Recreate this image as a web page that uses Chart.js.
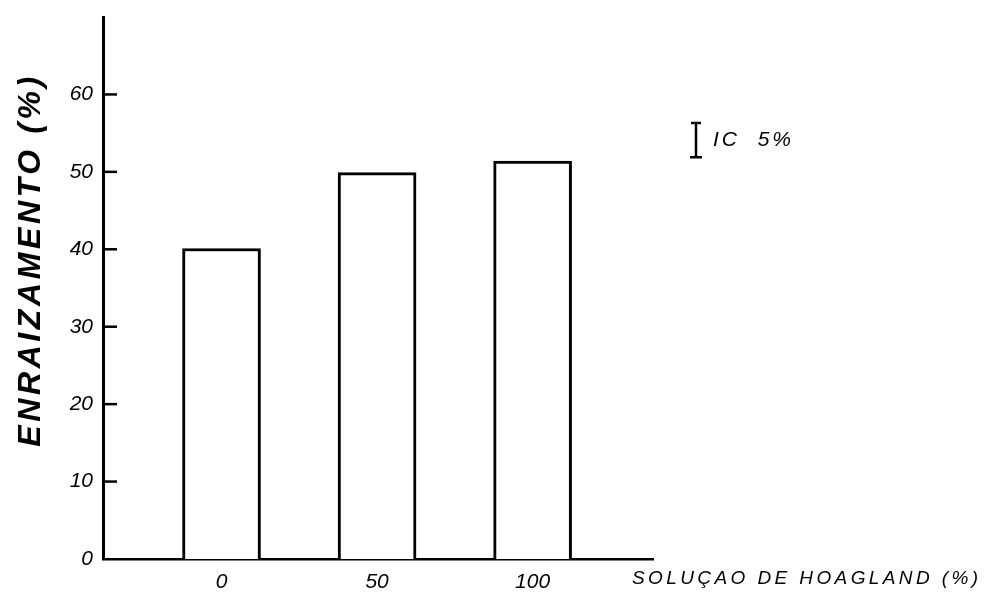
<!DOCTYPE html>
<html>
<head>
<meta charset="utf-8">
<title>Enraizamento x Solução de Hoagland</title>
<script src="https://cdn.jsdelivr.net/npm/chart.js@4.4.1/dist/chart.umd.min.js"></script>
<style>
  html, body { margin: 0; padding: 0; background: #fff; }
  #wrap { width: 994px; height: 594px; }
</style>
</head>
<body>
<div id="wrap"><canvas id="chart" width="994" height="594"></canvas></div>
<script>
// dados
const categorias = [0, 50, 100];            // solução de Hoagland (%)
const enraizamento = [40.1, 49.9, 51.4];     // enraizamento (%)
const yTicks = [0, 10, 20, 30, 40, 50, 60];
const yMax = 70;
const icTopo = 56.3;                         // barra "IC 5%" (unidades de y)
const icLargura = 4.4;

const tituloY = "ENRAIZAMENTO (%)";
const tituloX = "SOLUÇAO DE HOAGLAND (%)";
const legendaIC = "IC  5%";

const fonte = "'Liberation Sans', Arial, sans-serif";

// tracinhos dos ticks por dentro, títulos e legenda IC
const extras = {
  id: "extras",
  afterDraw(chart) {
    const { ctx, chartArea } = chart;
    const y = chart.scales.y;
    const x = chart.scales.x;
    ctx.save();
    ctx.strokeStyle = "#000";
    ctx.fillStyle = "#000";

    // tracinhos do eixo y
    ctx.lineWidth = 2.5;
    yTicks.forEach((v) => {
      if (v === 0) return;
      const py = y.getPixelForValue(v);
      ctx.beginPath();
      ctx.moveTo(chartArea.left, py);
      ctx.lineTo(chartArea.left + 14, py);
      ctx.stroke();
    });

    // título do eixo y
    ctx.save();
    ctx.translate(31, 260);
    ctx.rotate(-Math.PI / 2);
    ctx.font = "italic bold 32px " + fonte;
    ctx.letterSpacing = "3.6px";
    ctx.textAlign = "center";
    ctx.textBaseline = "middle";
    ctx.fillText(tituloY, 0, 0);
    ctx.restore();

    // título do eixo x
    ctx.font = "italic 19px " + fonte;
    ctx.letterSpacing = "3.4px";
    ctx.textAlign = "left";
    ctx.textBaseline = "middle";
    ctx.fillText(tituloX, chartArea.right - 21, x.bottom - 15);

    // legenda IC 5%
    const lx = chartArea.right + 43;
    const top = y.getPixelForValue(icTopo);
    const bot = y.getPixelForValue(icTopo - icLargura);
    ctx.lineWidth = 2.5;
    ctx.beginPath();
    ctx.moveTo(lx, top); ctx.lineTo(lx, bot);
    ctx.moveTo(lx - 5, top); ctx.lineTo(lx + 5, top);
    ctx.moveTo(lx - 6, bot); ctx.lineTo(lx + 6, bot);
    ctx.stroke();
    ctx.font = "italic 21px " + fonte;
    ctx.letterSpacing = "3px";
    ctx.fillText(legendaIC, lx + 17, y.getPixelForValue(icTopo) + 17);
    ctx.restore();
  }
};

const ctx = document.getElementById("chart").getContext("2d");

new Chart(ctx, {
  type: "bar",
  data: {
    datasets: [
      {
        label: "Enraizamento",
        data: categorias.map((c, i) => ({ x: c, y: enraizamento[i] })),
        backgroundColor: "#fff",
        borderColor: "#000",
        borderWidth: 3,
        borderSkipped: "bottom",
        barThickness: 78,
      },
    ],
  },
  options: {
    responsive: false,
    animation: false,
    layout: { padding: { top: 17, right: 341, bottom: 0, left: 0 } },
    plugins: {
      legend: { display: false },
      tooltip: { enabled: false },
    },
    scales: {
      x: {
        type: "linear",
        offset: false,
        min: -38.1,
        max: 138.7,
        afterBuildTicks: (scale) => {
          scale.ticks = categorias.map((v) => ({ value: v }));
        },
        afterFit: (scale) => { scale.height = 35; },
        grid: { display: false },
        border: { display: true, color: "#000", width: 2.5 },
        ticks: {
          color: "#000",
          padding: 3,
          font: { family: fonte, size: 21, style: "italic" },
          callback: (v) => String(v),
        },
      },
      y: {
        min: 0,
        max: yMax,
        afterBuildTicks: (scale) => {
          scale.ticks = yTicks.map((v) => ({ value: v }));
        },
        afterFit: (scale) => { scale.width = 103; },
        grid: { display: false },
        border: { display: true, color: "#000", width: 3 },
        ticks: {
          color: "#000",
          padding: 2,
          font: { family: fonte, size: 21, style: "italic" },
        },
      },
    },
  },
  plugins: [extras],
});
</script>
</body>
</html>
